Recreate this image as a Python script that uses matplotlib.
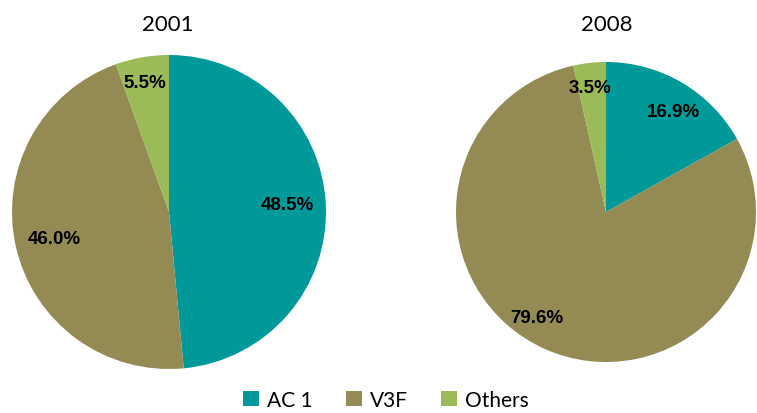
import matplotlib.pyplot as plt
import numpy as np
from matplotlib.patches import Patch

categories = ["AC 1", "V3F", "Others"]
years = ["2001", "2008"]
share_2001 = [48.5, 46.0, 5.5]
share_2008 = [16.9, 79.6, 3.5]
colors = ["#009999", "#948A54", "#9BBB59"]

fig = plt.figure(figsize=(7.57, 4.14), dpi=100)

# axes placed so the pies land where they are in the original
ax1 = fig.add_axes([12/757, 44/414, 314/757, 314/414])
ax2 = fig.add_axes([456/757, 51/414, 300/757, 300/414])

# label distance (fraction of radius) and angle shift (deg) per wedge
label_pos = {
    "2001": [(0.755, 0.7), (0.75, 0.2), (0.84, 0.6)],
    "2008": [(0.81, -3.5), (0.84, -9), (0.84, 1)],
}

for ax, year, vals in [(ax1, "2001", share_2001), (ax2, "2008", share_2008)]:
    wedges, _ = ax.pie(vals, colors=colors, startangle=90, counterclock=False,
                       radius=1, wedgeprops=dict(linewidth=0))
    for w, v, (d, shift) in zip(wedges, vals, label_pos[year]):
        ang = np.deg2rad((w.theta1 + w.theta2) / 2 + shift)
        ax.text(d*np.cos(ang), d*np.sin(ang), "%.1f%%" % v, ha="center", va="center",
                fontsize=13.5, fontweight="bold", family="Liberation Sans")
    ax.set_xlim(-1, 1)
    ax.set_ylim(-1, 1)
    ax.set_aspect("equal")
    ax.axis("off")

fig.text(168/757, 1-25/414, "2001", ha="center", va="center", fontsize=16, family="Lato")
fig.text(607/757, 1-25/414, "2008", ha="center", va="center", fontsize=16, family="Lato")

handles = [Patch(facecolor=c, label=l) for c, l in zip(colors, categories)]
fig.legend(handles=handles, loc="center", bbox_to_anchor=(386/757, 1-401/414), ncol=3,
           frameon=False, handlelength=0.75, handleheight=0.75, handletextpad=0.4,
           columnspacing=1.6, prop={"family": "Lato", "size": 15})

fig.savefig("out.png", dpi=100)
